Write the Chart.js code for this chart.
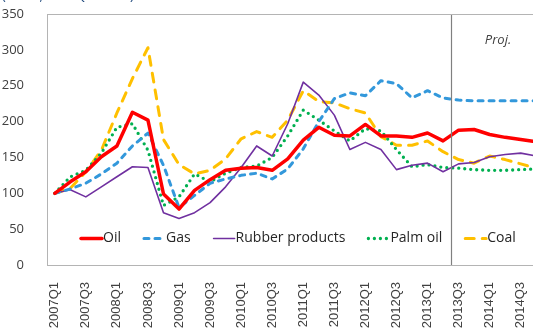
<!DOCTYPE html>
<html>
<head>
<meta charset="utf-8">
<script src="https://cdn.jsdelivr.net/npm/chart.js@4.4.0/dist/chart.umd.min.js"></script>
<style>
  html, body { margin: 0; padding: 0; overflow: hidden; background: #fff; }
  #wrap { width: 550px; height: 329px; }
</style>
</head>
<body>
<div id="wrap"><canvas id="chart" width="550" height="329"></canvas></div>
<script>
// =============================================
// Commodity price indices, 2007Q1 = 100
// =============================================

const quarters = [
  '2007Q1', '2007Q2', '2007Q3', '2007Q4', '2008Q1', '2008Q2', '2008Q3', '2008Q4',
  '2009Q1', '2009Q2', '2009Q3', '2009Q4', '2010Q1', '2010Q2', '2010Q3', '2010Q4',
  '2011Q1', '2011Q2', '2011Q3', '2011Q4', '2012Q1', '2012Q2', '2012Q3', '2012Q4',
  '2013Q1', '2013Q2', '2013Q3', '2013Q4', '2014Q1', '2014Q2', '2014Q3', '2014Q4',
];

const oil     = [100, 116, 130, 151, 166, 213, 202, 99, 78, 104, 119, 132, 135, 136, 132, 148,
                 174, 192, 181, 180, 196, 180, 180, 178, 184, 173, 188, 189, 182, 178, 175, 172];
const gas     = [100, 106, 114, 127, 142, 166, 184, 139, 80, 97, 114, 120, 125, 128, 120, 134,
                 162, 200, 232, 240, 236, 257, 253, 233, 243, 233, 230, 229, 229, 229, 229, 229];
const rubber  = [100, 105, 95, 109, 123, 137, 136, 73, 65, 73, 87, 109, 136, 166, 152, 197,
                 255, 237, 209, 161, 171, 161, 133, 139, 142, 130, 141, 143, 151, 154, 156, 152];
const palmOil = [100, 123, 132, 156, 192, 197, 160, 83, 95, 127, 116, 128, 136, 138, 150, 180,
                 216, 202, 187, 173, 190, 187, 161, 137, 140, 136, 135, 133, 132, 132, 133, 134];
const coal    = [100, 107, 130, 160, 212, 260, 303, 175, 140, 127, 132, 148, 176, 186, 178, 202,
                 243, 228, 226, 218, 212, 179, 167, 167, 173, 158, 147, 142, 152, 147, 141, 135];

const yMin = 0;
const yMax = 350;
const yStep = 50;

// projections start here
const projStart = '2013Q3';

const FONT_UI = "'Open Sans', sans-serif";
const FONT_AXIS = "'Liberation Sans', Arial, sans-serif";
const TEXT = '#404040';

function series(label, data, color, width, dash, cap) {
  return {
    label,
    data,
    borderColor: color,
    backgroundColor: color,
    borderWidth: width,
    borderDash: dash || [],
    borderCapStyle: cap || 'round',
    borderJoinStyle: 'round',
    pointRadius: 0,
    tension: 0,
    fill: false,
  };
}

// plot area frame
const frame = {
  id: 'frame',
  afterDraw(chart) {
    const { ctx, chartArea: a } = chart;
    ctx.save();
    ctx.strokeStyle = '#b4b4b4';
    ctx.lineWidth = 1;
    ctx.strokeRect(Math.round(a.left) + 0.5, Math.round(a.top) + 0.5,
      Math.round(a.right - a.left), Math.round(a.bottom - a.top));
    ctx.restore();
  },
};

// divider between actuals and projections, plus the "Proj." tag
const projection = {
  id: 'projection',
  afterDatasetsDraw(chart) {
    const { ctx, chartArea: a, scales } = chart;
    const i = quarters.indexOf(projStart);
    const x = Math.round((scales.x.getPixelForValue(i - 1) + scales.x.getPixelForValue(i)) / 2) + 0.5;
    ctx.save();
    ctx.strokeStyle = '#808080';
    ctx.lineWidth = 1.2;
    ctx.beginPath();
    ctx.moveTo(x, a.top);
    ctx.lineTo(x, a.bottom);
    ctx.stroke();
    ctx.fillStyle = TEXT;
    ctx.font = `italic 13px ${FONT_UI}`;
    ctx.textAlign = 'center';
    ctx.textBaseline = 'middle';
    ctx.fillText('Proj.', 498, 40);
    ctx.restore();
  },
};

// legend sits inside the plot, along the bottom
const insideLegend = {
  id: 'insideLegend',
  afterDraw(chart) {
    const { ctx } = chart;
    const y = 238.5;
    let x = 80;
    ctx.save();
    ctx.font = `14px ${FONT_UI}`;
    ctx.textBaseline = 'middle';
    chart.data.datasets.forEach((ds) => {
      ctx.strokeStyle = ds.borderColor;
      ctx.lineWidth = ds.borderWidth;
      ctx.lineCap = ds.borderCapStyle;
      ctx.setLineDash(ds.borderDash);
      ctx.beginPath();
      ctx.moveTo(x + 1, y);
      ctx.lineTo(x + 22, y);
      ctx.stroke();
      ctx.setLineDash([]);
      ctx.fillStyle = '#262626';
      ctx.fillText(ds.label, x + 23, y);
      x += 23 + ctx.measureText(ds.label).width + 22;
    });
    ctx.restore();
  },
};

// unit note along the top edge
const unitNote = {
  id: 'unitNote',
  afterDraw(chart) {
    const { ctx } = chart;
    ctx.save();
    ctx.fillStyle = '#1F497D';
    ctx.font = `13px ${FONT_UI}`;
    ctx.textBaseline = 'alphabetic';
    ctx.fillText('(Index, 2007Q1 = 100)', 2, 0);
    ctx.restore();
  },
};

const ctx = document.getElementById('chart').getContext('2d');

new Chart(ctx, {
  type: 'line',
  data: {
    labels: quarters,
    datasets: [
      series('Oil', oil, '#FF0000', 3.5),
      series('Gas', gas, '#3398DB', 3, [5, 6]),
      series('Rubber products', rubber, '#7030A0', 1.6),
      series('Palm oil', palmOil, '#00B050', 3.3, [0, 6]),
      series('Coal', coal, '#FFC000', 3, [9, 8]),
    ],
  },
  options: {
    responsive: false,
    animation: false,
    devicePixelRatio: 1,
    layout: { padding: { top: 14, right: 6, left: 0, bottom: 0 } },
    plugins: {
      legend: { display: false },
      tooltip: { enabled: false },
    },
    scales: {
      x: {
        offset: true,
        grid: { display: false },
        border: { display: false },
        ticks: {
          autoSkip: false,
          maxRotation: 90,
          minRotation: 90,
          padding: 9,
          color: TEXT,
          font: { family: FONT_AXIS, size: 13 },
          callback: (v, i) => (i % 2 === 0 ? quarters[i] : ''),
        },
        afterFit: (s) => {
          s.height = 64;
          s.paddingLeft = 0;
          s.paddingRight = 0;
        },
      },
      y: {
        min: yMin,
        max: yMax,
        grid: { display: false },
        border: { display: false },
        ticks: {
          stepSize: yStep,
          padding: 15,
          color: TEXT,
          font: { family: FONT_UI, size: 13 },
        },
        afterFit: (s) => {
          s.width = 47;
          s.paddingTop = 0;
          s.paddingBottom = 0;
        },
      },
    },
  },
  plugins: [frame, projection, insideLegend, unitNote],
});
</script>
</body>
</html>
